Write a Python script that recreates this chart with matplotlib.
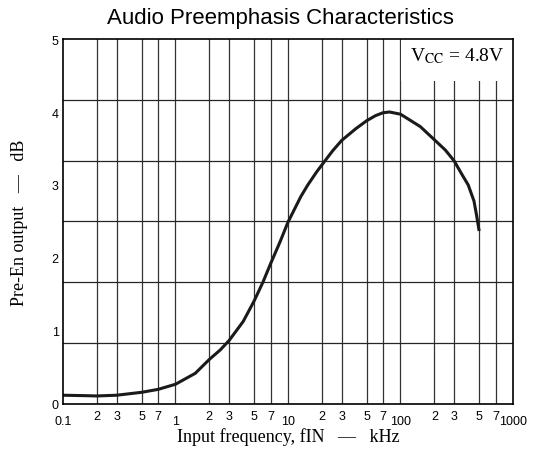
import matplotlib
matplotlib.use("Agg")
import matplotlib.pyplot as plt
from matplotlib.patches import Rectangle

# curve (kHz, dB)
freq_khz = [0.1, 0.15, 0.2, 0.3, 0.5, 0.7, 1, 1.5, 2, 2.5, 3, 4, 5, 6, 7, 8.5,
            10, 13, 15, 18, 21.3, 25, 30, 40, 50, 60, 70, 80, 100, 150, 200,
            250, 300, 350, 400, 450, 475, 500]
gain_db = [0.12, 0.115, 0.11, 0.12, 0.16, 0.2, 0.27, 0.42, 0.61, 0.74, 0.87,
           1.13, 1.41, 1.67, 1.92, 2.22, 2.49, 2.84, 3.0, 3.18, 3.33, 3.47,
           3.61, 3.77, 3.88, 3.95, 3.99, 4.0, 3.97, 3.8, 3.62, 3.48, 3.33, 3.15,
           3.0, 2.78, 2.58, 2.37]

decades = [0.1, 1, 10, 100, 1000]
decade_labels = ["0.1", "1", "10", "100", "1000"]
minor_steps = [2, 3, 5, 7]
y_ticks = [0, 1, 2, 3, 4, 5]
h_grid = [5 / 6 * i for i in range(1, 6)]

plt.rcParams['font.family'] = 'Liberation Sans'
plt.rcParams['mathtext.fontset'] = 'stix'

fig = plt.figure(figsize=(5.33, 4.52), dpi=100)
ax = fig.add_axes([0.118, 0.104, 0.8445, 0.8075])

ax.set_xscale('log')
ax.set_xlim(0.1, 1000)
ax.set_ylim(0, 5)

# grid (drawn by hand, the horizontal lines don't follow the ticks)
minor_pos = [d * m for d in decades[:-1] for m in minor_steps]
for x in minor_pos + decades[1:-1]:
    ax.axvline(x, color='0.2', lw=0.9, zorder=1)
for y in h_grid:
    ax.axhline(y, color='0.15', lw=0.9, zorder=1)

# VCC box
ax.add_patch(Rectangle((0.751, 0.885), 0.249, 0.115, transform=ax.transAxes,
                       facecolor='white', edgecolor='none', zorder=2))
ax.text(0.876, 0.955, r'V$_{\rm CC}$ = 4.8V', transform=ax.transAxes,
        ha='center', va='center', fontsize=14, family='Liberation Serif', zorder=3)

ax.plot(freq_khz, gain_db, color='#1a1a1a', lw=2.2, zorder=4,
        solid_capstyle='butt', solid_joinstyle='round')

# ticks
ax.set_xticks(decades)
ax.set_xticklabels(decade_labels)
ax.set_xticks(minor_pos, minor=True)
ax.set_xticklabels([str(m) for d in decades[:-1] for m in minor_steps], minor=True)
ax.tick_params(axis='x', which='major', length=0, pad=8, labelsize=9)
ax.tick_params(axis='x', which='minor', length=0, pad=4, labelsize=9)
ax.set_yticks(y_ticks)
ax.tick_params(axis='y', length=0, pad=3, labelsize=9)

for s in ax.spines.values():
    s.set_linewidth(1.2)
    s.set_zorder(5)

ax.set_xlabel('Input frequency, fIN   —   kHz', family='Liberation Serif',
              fontsize=13, labelpad=0)
ax.set_ylabel('Pre-En output   —   dB', family='Liberation Serif',
              fontsize=13, labelpad=17)

fig.text(0.527, 0.959, 'Audio Preemphasis Characteristics', ha='center',
         va='center', fontsize=16)

fig.savefig('out.png', dpi=100)
